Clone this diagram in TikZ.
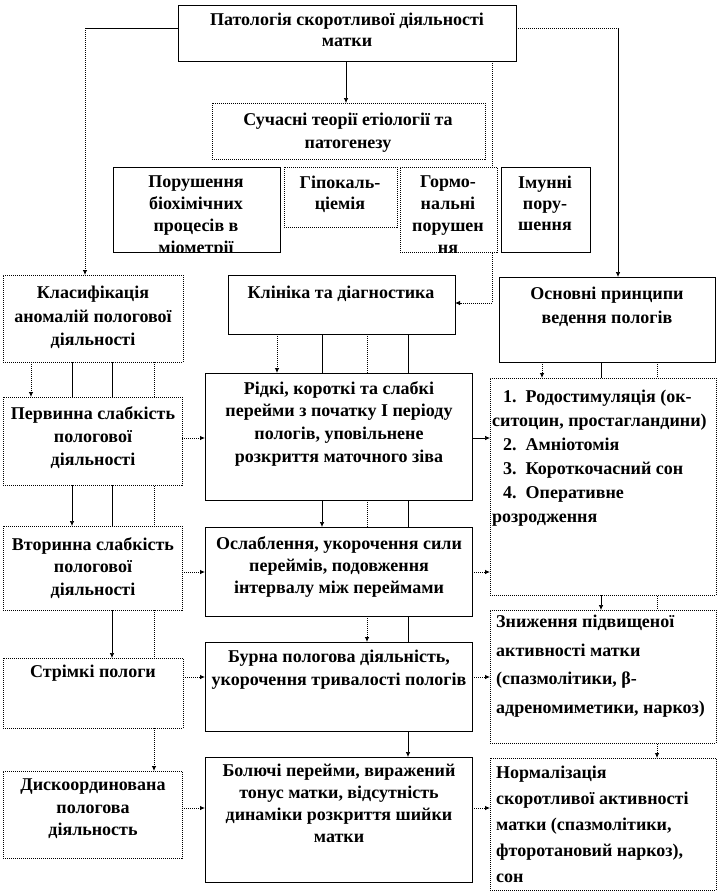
\documentclass[tikz,border=0pt]{standalone}
\usepackage{fontspec}
\setmainfont{Liberation Serif}
\usetikzlibrary{arrows.meta,calc}
\pgfdeclarelayer{back}
\pgfdeclarelayer{bg}
\pgfsetlayers{back,bg,main}
\tikzset{
  x=1pt, y=-1pt,
  bx/.style={draw, line width=0.7pt, fill=white, inner sep=0pt, outer sep=0pt, anchor=north west},
  dbx/.style={bx, line width=0.8pt, dash pattern=on 1pt off 1pt},
  tx/.style={anchor=north, align=center, inner sep=0pt, font=\fontsize{18}{22}\selectfont\bfseries},
  ltx/.style={anchor=north west, align=left, inner sep=0pt, font=\fontsize{18}{24}\selectfont\bfseries},
  sl/.style={line width=0.7pt},
  dl/.style={line width=0.8pt, dash pattern=on 1pt off 1pt},
  arr/.style={-{Latex[length=5pt,width=4.5pt]}},
}
\newcommand\mkbox[6]{%
  \pgfmathsetmacro\bw{#5-#3}\pgfmathsetmacro\bh{#6-#4}%
  \node[#2, minimum width=\bw pt, minimum height=\bh pt] (#1) at (#3,#4) {};}
\begin{document}
\begin{tikzpicture}
\useasboundingbox (0,0) rectangle (717,894);
\begin{pgfonlayer}{back}
\fill[white] (0,0) rectangle (717,894);
\end{pgfonlayer}
% boxes
\mkbox{T}{bx}{178}{5}{516}{61}
\mkbox{S}{dbx}{212}{103}{485}{159}
\mkbox{B1}{bx}{113}{167}{280}{252}
\mkbox{B2}{dbx}{284}{167}{397}{227}
\mkbox{B3}{dbx}{400}{167}{497}{252}
\mkbox{B4}{bx}{501}{167}{590}{252}
\mkbox{K}{dbx}{3}{275}{183}{362}
\mkbox{C}{bx}{228}{275}{455}{334}
\mkbox{O}{bx}{499}{277}{715}{362}
\mkbox{P1}{dbx}{3}{397}{182}{485}
\mkbox{R}{bx}{205}{373}{472}{500}
\mkbox{L}{dbx}{490}{378}{716}{595}
\mkbox{P2}{dbx}{3}{526}{182}{610}
\mkbox{W}{bx}{205}{527}{472}{616}
\mkbox{Z}{dbx}{490}{610}{716}{743}
\mkbox{P3}{dbx}{3}{658}{183}{728}
\mkbox{U}{bx}{205}{642}{472}{731}
\mkbox{P4}{dbx}{3}{771}{182}{858}
\mkbox{D}{bx}{205}{757}{472}{882}
\mkbox{N}{dbx}{490}{758}{716}{890}
% texts
\node[tx, font=\fontsize{18}{21}\selectfont\bfseries] (Tt) at (347,13) {Патологія скоротливої діяльності\\матки};
\node[tx, font=\fontsize{18}{23}\selectfont\bfseries] (St) at (348,113) {Сучасні теорії етіології та\\патогенезу};
\begin{scope}
\clip (B1.north west) rectangle (B1.south east);
\node[tx, font=\fontsize{18}{22}\selectfont\bfseries] (B1t) at (196,176) {Порушення\\біохімічних\\процесів в\\міометрії};
\end{scope}
\node[tx, font=\fontsize{18}{21}\selectfont\bfseries] (B2t) at (340,176) {Гіпокаль-\\ціемія};
\begin{scope}
\clip (B3.north west) rectangle (B3.south east);
\node[tx, font=\fontsize{18}{22}\selectfont\bfseries] (B3t) at (448,176) {Гормо-\\нальні\\порушен\\ня};
\end{scope}
\node[tx, font=\fontsize{18}{21}\selectfont\bfseries] (B4t) at (545,176) {Імунні\\пору-\\шення};
\node[tx, font=\fontsize{18}{23.5}\selectfont\bfseries] (Kt) at (93,286) {Класифікація\\аномалій пологової\\діяльності};
\node[tx] (Ct) at (341,286) {Клініка та діагностика};
\node[tx, font=\fontsize{18}{24}\selectfont\bfseries] (Ot) at (607,287) {Основні принципи\\ведення пологів};
\node[tx, font=\fontsize{18}{23}\selectfont\bfseries] (P1t) at (93,406) {Первинна слабкість\\пологової\\діяльності};
\node[tx, font=\fontsize{18}{22.7}\selectfont\bfseries] (Rt) at (339,381) {Рідкі, короткі та слабкі\\перейми з початку І періоду\\пологів, уповільнене\\розкриття маточного зіва};
\node[ltx] (Lt) at (492,390) {\hspace*{11pt}1.\ \ Родостимуляція (ок-\\ситоцин, простагландини)\\\hspace*{11pt}2.\ \ Амніотомія\\\hspace*{11pt}3.\ \ Короткочасний сон\\\hspace*{11pt}4.\ \ Оперативне\\розродження};
\node[tx, font=\fontsize{18}{22.5}\selectfont\bfseries] (P2t) at (93,537) {Вторинна слабкість\\пологової\\діяльності};
\node[tx] (Wt) at (339,536) {Ослаблення, укорочення сили\\переймів, подовження\\інтервалу між переймами};
\node[ltx, font=\fontsize{18}{28.5}\selectfont\bfseries] (Zt) at (496,615) {Зниження підвищеної\\активності матки\\(спазмолітики, β-\\адреномиметики, наркоз)};
\node[tx] (P3t) at (93,665) {Стрімкі пологи};
\node[tx, font=\fontsize{18}{23}\selectfont\bfseries] (Ut) at (339,650) {Бурна пологова діяльність,\\укорочення тривалості пологів};
\node[tx, font=\fontsize{18}{22.5}\selectfont\bfseries] (P4t) at (93,779) {Дискоординована\\пологова\\діяльность};
\node[tx] (Dt) at (339,764) {Болючі перейми, виражений\\тонус матки, відсутність\\динаміки розкриття шийки\\матки};
\node[ltx, font=\fontsize{18}{26}\selectfont\bfseries] (Nt) at (496,766) {Нормалізація\\скоротливої активності\\матки (спазмолітики,\\фторотановий наркоз),\\сон};
% connectors
\begin{pgfonlayer}{bg}
\coordinate (cTL) at (85,28);
\coordinate (cTR) at (618,28);
\coordinate (xTS) at (346,0);
\coordinate (cTK) at (492,303);
\draw[sl] (T.west |- cTL) -- (cTL);
\draw[dl,arr] (cTL) -- (K.north -| cTL);
\draw[dl] (T.east |- cTR) -- (cTR);
\draw[sl,arr] (cTR) -- (O.north -| cTR);
\draw[sl,arr] (T.south -| xTS) -- (S.north -| xTS);
\draw[dl] (T.south -| cTK) -- (cTK);
\draw[dl,arr] (cTK) -- (C.east |- cTK);
% left column
\coordinate (k1) at (31,0);
\coordinate (k2) at (72,0);
\coordinate (k3) at (112,0);
\coordinate (k4) at (154,0);
\draw[dl,arr] (K.south -| k1) -- (P1.north -| k1);
\draw[sl,arr] (K.south -| k2) -- (P2.north -| k2);
\draw[sl,arr] (K.south -| k3) -- (P3.north -| k3);
\draw[dl,arr] (K.south -| k4) -- (P4.north -| k4);
% middle column
\coordinate (c1) at (277,0);
\coordinate (c2) at (322,0);
\coordinate (c3) at (367,0);
\coordinate (c4) at (408,0);
\draw[dl,arr] (C.south -| c1) -- (R.north -| c1);
\draw[sl,arr] (C.south -| c2) -- (W.north -| c2);
\draw[dl,arr] (C.south -| c3) -- (U.north -| c3);
\draw[sl,arr] (C.south -| c4) -- (D.north -| c4);
% right column
\coordinate (o1) at (542,0);
\coordinate (o2) at (601,0);
\coordinate (o3) at (657,0);
\draw[dl,arr] (O.south -| o1) -- (L.north -| o1);
\draw[sl,arr] (O.south -| o2) -- (Z.north -| o2);
\draw[dl,arr] (O.south -| o3) -- (N.north -| o3);
% horizontals
\coordinate (h1) at (0,438);
\coordinate (h2) at (0,572);
\coordinate (h3) at (0,677);
\coordinate (h4) at (0,808);
\draw[dl,arr] (P1.east |- h1) -- (R.west |- h1);
\draw[sl,arr] (R.east |- h1) -- (L.west |- h1);
\draw[dl,arr] (P2.east |- h2) -- (W.west |- h2);
\draw[dl,arr] (W.east |- h2) -- (L.west |- h2);
\draw[dl,arr] (P3.east |- h3) -- (U.west |- h3);
\draw[dl,arr] (U.east |- h3) -- (Z.west |- h3);
\draw[dl,arr] (P4.east |- h4) -- (D.west |- h4);
\draw[dl,arr] (D.east |- h4) -- (N.west |- h4);
\end{pgfonlayer}
\end{tikzpicture}
\end{document}
